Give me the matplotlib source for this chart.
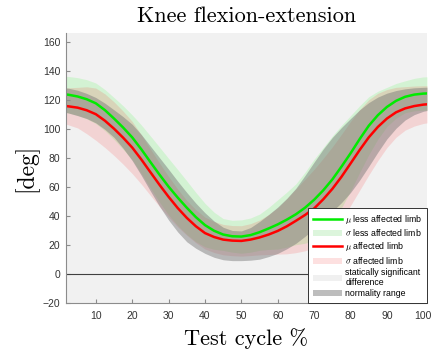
import matplotlib
matplotlib.use('Agg')
import matplotlib.pyplot as plt
from matplotlib.lines import Line2D
from matplotlib.patches import Patch

plt.rcParams['font.family'] = ['Liberation Sans', 'DejaVu Sans']
plt.rcParams['mathtext.fontset'] = 'cm'

# test cycle (%)
cycle = [1.8, 2.5, 5, 7.5, 10, 12.5, 15, 17.5, 20, 22.5, 25, 27.5, 30, 32.5, 35, 37.5,
         40, 42.5, 45, 47.5, 50, 52.5, 55, 57.5, 60, 62.5, 65, 67.5, 70, 72.5, 75, 77.5,
         80, 82.5, 85, 87.5, 90, 92.5, 95, 97.5, 100, 101]

# less affected limb: mean and std
less_mu = [123.6, 123.4, 122.2, 120.3, 117.5, 112.8, 107, 100.8, 94, 85.8, 77, 68.3,
           60, 52.5, 45.5, 39, 33.5, 29.6, 27, 25.8, 25.6, 26.6, 28.6, 31.2, 34, 37.3,
           41, 45.5, 51, 57.5, 65, 73.8, 83, 92.8, 102, 109.3, 115, 119.2, 122, 123.5,
           124.2, 124.3]
less_sd = [12.5, 12.6, 13, 13.5, 14, 14.2, 14.5, 15, 15.5, 16.8, 18, 19, 19.5, 19.3,
           18.5, 17, 15, 12.8, 11, 11, 11.5, 11.8, 12.5, 14.5, 17, 19, 21, 24.5, 28,
           29.5, 30, 28.5, 26, 23, 20, 16.5, 13.5, 12, 11, 11.2, 11.5, 11.5]

# affected limb: mean and std
aff_mu = [115.6, 115.4, 114.5, 112.7, 110, 105.5, 100, 93.8, 87, 78.8, 70, 61.3, 53,
          45.3, 38.5, 32.7, 28, 25.3, 23.5, 22.8, 22.6, 23.5, 25, 27, 29.5, 32.7, 36.5,
          40.5, 45, 51.3, 58.5, 66.8, 76, 85.3, 94, 101.2, 107, 111.3, 114, 115.6,
          116.6, 116.8]
aff_sd = [12.4, 12.8, 14, 16.2, 18, 18.5, 18.5, 18.3, 18, 17, 16, 15, 14, 13, 12,
          11.4, 11, 10.7, 10.5, 10.4, 10.5, 11, 12, 13.8, 16, 19, 22, 24.7, 27, 28.3,
          29, 29.3, 29, 27.8, 26, 23.2, 20, 17.2, 15, 13.8, 13, 12.8]

# normality range
norm_lo = [111.2, 110.8, 109, 107, 104, 99.5, 94, 86.5, 78, 67.8, 57, 46.5, 37, 28.8,
           22, 17.5, 14, 11.3, 9.6, 9, 9, 9.3, 10, 11.8, 14, 17.2, 21, 25.8, 31, 36.8,
           43, 49, 56, 64.5, 74, 83.8, 93, 100.3, 106, 109.7, 112, 112.5]
norm_hi = [128.1, 127.9, 126.5, 124.3, 121.5, 117.6, 113, 108.3, 103, 96, 88, 80, 72,
           63.8, 56, 48.6, 42, 36.3, 32, 29.8, 29.5, 31.8, 36, 40.8, 46, 52, 59, 67.8,
           77, 86, 94, 100.8, 107, 113, 118, 121.8, 124.5, 126.3, 127.5, 128.2, 128.5,
           128.6]

less_lo = [m - s for m, s in zip(less_mu, less_sd)]
less_hi = [m + s for m, s in zip(less_mu, less_sd)]
aff_lo = [m - s for m, s in zip(aff_mu, aff_sd)]
aff_hi = [m + s for m, s in zip(aff_mu, aff_sd)]

fig = plt.figure(figsize=(4.34, 3.49), dpi=100)
ax = fig.add_axes([0.152, 0.1327, 0.8318, 0.7728])
ax.set_facecolor('#f1f1f1')

ax.fill_between(cycle, less_lo, less_hi, color=(0, 1, 0), alpha=0.12, lw=0)
ax.fill_between(cycle, aff_lo, aff_hi, color=(1, 0, 0), alpha=0.12, lw=0)
ax.fill_between(cycle, norm_lo, norm_hi, color=(0.45, 0.45, 0.45), alpha=0.45, lw=0)
ax.axhline(0, color='#404040', lw=0.8)
ax.plot(cycle, less_mu, color=(0, 0.92, 0), lw=1.8)
ax.plot(cycle, aff_mu, color=(1, 0, 0), lw=1.8)

ax.set_xlim(1.8, 101)
ax.set_ylim(-20, 166)
ax.set_xticks(range(10, 101, 10))
ax.set_yticks(range(-20, 161, 20))
for s in ['top', 'right']:
    ax.spines[s].set_visible(False)
for s in ['left', 'bottom']:
    ax.spines[s].set_color('#8c8c8c')
ax.tick_params(direction='in', length=3, color='#8c8c8c', labelcolor='#333333',
               labelsize=7.5)
ax.tick_params(axis='x', pad=6)
ax.tick_params(axis='y', pad=4)

ax.set_title('Knee flexion-extension', fontfamily='cmr10', fontsize=16, pad=8)
ax.set_xlabel('Test cycle %', fontfamily='cmr10', fontsize=16, labelpad=5)
ax.set_ylabel('[deg]', fontfamily='cmr10', fontsize=17, labelpad=3)

handles = [
    Line2D([], [], color=(0, 0.92, 0), lw=1.8),
    Patch(facecolor='#dcf5dc', edgecolor='none'),
    Line2D([], [], color=(1, 0, 0), lw=1.8),
    Patch(facecolor='#fde0e0', edgecolor='none'),
    Patch(facecolor='#f0f0f0', edgecolor='none'),
    Patch(facecolor='#bdbdbd', edgecolor='none'),
]
labels = [r'$\mu$ less affected limb', r'$\sigma$ less affected limb',
          r'$\mu$ affected limb', r'$\sigma$ affected limb',
          'statically significant\ndifference', 'normality range']
leg = ax.legend(handles, labels, loc='lower right', borderaxespad=0, fontsize=6.3,
                fancybox=False, framealpha=1, edgecolor='#333333',
                handlelength=3.3, handletextpad=0.4, labelspacing=0.2,
                borderpad=0.55)
leg.get_frame().set_linewidth(0.7)

fig.savefig('out.png', dpi=100)
